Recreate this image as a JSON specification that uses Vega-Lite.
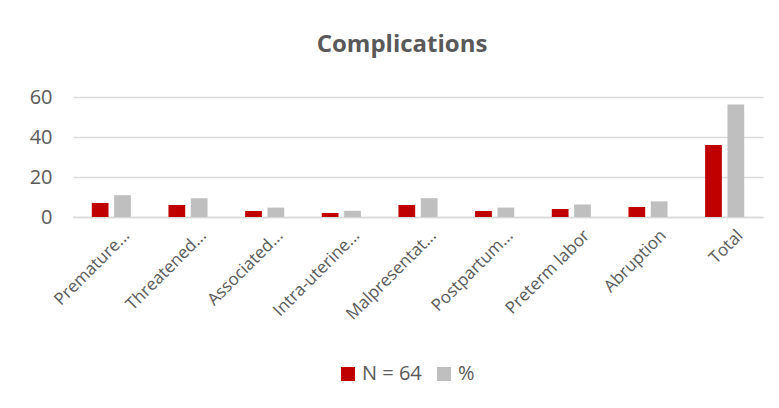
{
  "$schema": "https://vega.github.io/schema/vega-lite/v6.json",
  "width": 690,
  "height": 120,
  "autosize": {"type": "none"},
  "padding": {"left": 73, "top": 97, "right": 16, "bottom": 191},
  "background": "white",
  "title": {"text": "Complications", "fontSize": 24, "fontWeight": "bold", "color": "#595959", "font": "Open Sans", "offset": 30, "anchor": "middle", "dx": -16},
  "data": {"values": [
    {"category": "Premature...", "series": "N = 64", "value": 7},
    {"category": "Premature...", "series": "%", "value": 10.9},
    {"category": "Threatened...", "series": "N = 64", "value": 6},
    {"category": "Threatened...", "series": "%", "value": 9.4},
    {"category": "Associated...", "series": "N = 64", "value": 3},
    {"category": "Associated...", "series": "%", "value": 4.7},
    {"category": "Intra-uterine...", "series": "N = 64", "value": 2},
    {"category": "Intra-uterine...", "series": "%", "value": 3.1},
    {"category": "Malpresentat...", "series": "N = 64", "value": 6},
    {"category": "Malpresentat...", "series": "%", "value": 9.4},
    {"category": "Postpartum...", "series": "N = 64", "value": 3},
    {"category": "Postpartum...", "series": "%", "value": 4.7},
    {"category": "Preterm labor", "series": "N = 64", "value": 4},
    {"category": "Preterm labor", "series": "%", "value": 6.3},
    {"category": "Abruption", "series": "N = 64", "value": 5},
    {"category": "Abruption", "series": "%", "value": 7.8},
    {"category": "Total", "series": "N = 64", "value": 36},
    {"category": "Total", "series": "%", "value": 56.3}
  ]},
  "mark": {"type": "bar"},
  "encoding": {
    "x": {
      "field": "category", "type": "nominal", "sort": null,
      "scale": {"paddingInner": 0.49, "paddingOuter": 0.245},
      "axis": {"title": null, "labelAngle": -45, "labelFontSize": 17, "labelColor": "#595959", "labelFont": "Open Sans", "ticks": false, "domainColor": "#d9d9d9", "domainWidth": 1.5, "labelPadding": 10, "labelOffset": 10}
    },
    "xOffset": {"field": "series", "type": "nominal", "sort": ["N = 64", "%"], "scale": {"paddingInner": 0.25}},
    "y": {
      "field": "value", "type": "quantitative",
      "scale": {"domain": [0, 60], "nice": false},
      "axis": {"title": null, "values": [0, 20, 40, 60], "domain": false, "ticks": false, "labelFontSize": 20, "labelColor": "#595959", "labelFont": "Open Sans", "labelPadding": 21, "gridColor": "#d9d9d9", "gridWidth": 1.5}
    },
    "color": {
      "field": "series", "type": "nominal",
      "scale": {"domain": ["N = 64", "%"], "range": ["#c00000", "#bfbfbf"]},
      "legend": {"title": null, "orient": "none", "direction": "horizontal", "legendX": 265, "legendY": 267, "symbolType": "square", "symbolSize": 196, "symbolStrokeWidth": 0, "labelFontSize": 20, "labelColor": "#595959", "labelFont": "Open Sans", "columnPadding": 12, "labelOffset": 4, "symbolOpacity": 1}
    }
  },
  "config": {"view": {"stroke": null}}
}
